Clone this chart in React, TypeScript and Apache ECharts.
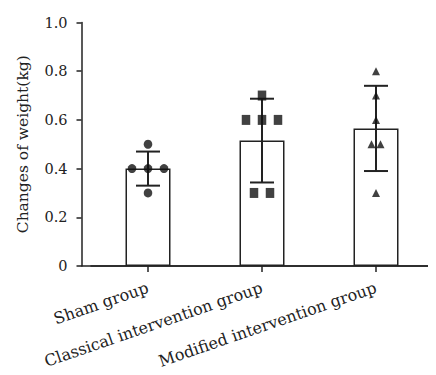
import React, { useEffect, useRef } from "react";
import * as echarts from "echarts";

const categories = ["Sham group", "Classical intervention group", "Modified intervention group"];
const means = [0.4, 0.515, 0.565];
const sds = [0.07, 0.172, 0.175];
const shamPoints = [0.5, 0.4, 0.4, 0.4, 0.3];
const classicalPoints = [0.7, 0.6, 0.6, 0.6, 0.3, 0.3];
const modifiedPoints = [0.8, 0.7, 0.6, 0.5, 0.5, 0.3];
const yTicks = [0, 0.2, 0.4, 0.6, 0.8, 1.0];

const FONT = "'DejaVu Serif', serif";
const INK = "#222";

function swarm(points: number[], cat: string, spacing: number) {
  const counts: Record<string, number> = {};
  points.forEach((v) => {
    const k = v.toFixed(3);
    counts[k] = (counts[k] || 0) + 1;
  });
  const seen: Record<string, number> = {};
  return points.map((v) => {
    const k = v.toFixed(3);
    const n = counts[k];
    const i = seen[k] || 0;
    seen[k] = i + 1;
    const dx = (i - (n - 1) / 2) * spacing;
    return { value: [cat, v], symbolOffset: [dx, 0] };
  });
}

export default function App() {
  const ref = useRef<HTMLDivElement>(null);
  useEffect(() => {
    if (!ref.current) return;
    const chart = echarts.init(ref.current, null, { renderer: "svg" });
    const gridTop = 22.5;
    const gridBottom = 109;
    chart.setOption({
      animation: false,
      backgroundColor: "#fff",
      grid: [
        { left: 91, right: 3, top: gridTop, bottom: gridBottom },
        { left: 81.5, right: 2, top: gridTop, bottom: gridBottom },
      ],
      xAxis: [
        {
          type: "category",
          gridIndex: 0,
          data: categories,
          axisLine: { show: true, lineStyle: { color: INK, width: 1.5 } },
          axisTick: { show: true, alignWithLabel: true, length: 6, lineStyle: { color: INK, width: 1.5 } },
          axisLabel: {
            rotate: 19,
            margin: 21,
            fontSize: 16,
            fontFamily: FONT,
            color: INK,
            interval: 0,
          },
        },
        {
          type: "value",
          gridIndex: 1,
          min: 0,
          max: 1,
          axisLine: { show: true, lineStyle: { color: INK, width: 1.5 } },
          axisTick: { show: false },
          axisLabel: { show: false },
          splitLine: { show: false },
        },
      ],
      yAxis: [
        { type: "value", gridIndex: 0, min: 0, max: 1, show: false },
        {
          type: "value",
          gridIndex: 1,
          min: yTicks[0],
          max: yTicks[yTicks.length - 1],
          interval: 0.2,
          name: "Changes of weight(kg)",
          nameLocation: "middle",
          nameGap: 51,
          nameTextStyle: { fontSize: 15.5, fontFamily: FONT, color: INK },
          axisLine: { show: true, lineStyle: { color: INK, width: 1.5 } },
          axisTick: { show: true, length: 5, lineStyle: { color: INK, width: 1.5 } },
          axisLabel: {
            fontSize: 14.5,
            fontFamily: FONT,
            color: INK,
            margin: 14,
            formatter: (v: number) => (v === 0 ? "0" : v.toFixed(1)),
          },
          splitLine: { show: false },
        },
      ],
      series: [
        {
          type: "bar",
          xAxisIndex: 0,
          yAxisIndex: 0,
          data: means,
          barWidth: 45,
          itemStyle: { color: "#fff", borderColor: INK, borderWidth: 1.5 },
          z: 1,
        },
        {
          type: "custom",
          xAxisIndex: 0,
          yAxisIndex: 0,
          data: means.map((m, i) => [i, m - sds[i], m + sds[i]]),
          z: 3,
          renderItem: (params: any, api: any) => {
            const x = api.value(0);
            const lo = api.coord([x, api.value(1)]);
            const hi = api.coord([x, api.value(2)]);
            const half = 12;
            const style = { stroke: INK, lineWidth: 2 };
            return {
              type: "group",
              children: [
                { type: "line", shape: { x1: lo[0], y1: lo[1], x2: hi[0], y2: hi[1] }, style },
                { type: "line", shape: { x1: lo[0] - half, y1: lo[1], x2: lo[0] + half, y2: lo[1] }, style },
                { type: "line", shape: { x1: hi[0] - half, y1: hi[1], x2: hi[0] + half, y2: hi[1] }, style },
              ],
            };
          },
        },
        {
          type: "scatter",
          xAxisIndex: 0,
          yAxisIndex: 0,
          symbol: "circle",
          symbolSize: [8.5, 9],
          itemStyle: { color: "#111" },
          data: swarm(shamPoints, categories[0], 16),
          z: 4,
        },
        {
          type: "scatter",
          xAxisIndex: 0,
          yAxisIndex: 0,
          symbol: "rect",
          symbolSize: [8.5, 10],
          itemStyle: { color: "#111" },
          data: swarm(classicalPoints, categories[1], 16),
          z: 4,
        },
        {
          type: "scatter",
          xAxisIndex: 0,
          yAxisIndex: 0,
          symbol: "triangle",
          symbolSize: [8, 8],
          itemStyle: { color: "#111" },
          data: swarm(modifiedPoints, categories[2], 9),
          z: 4,
        },
      ],
    });
    return () => chart.dispose();
  }, []);
  return <div ref={ref} style={{ width: 436, height: 375, margin: -8 }} />;
}
